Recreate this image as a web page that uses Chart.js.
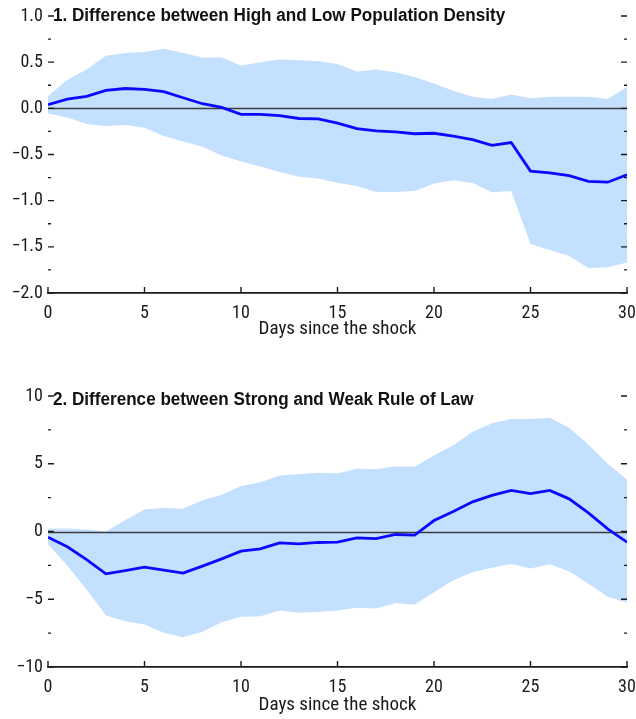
<!DOCTYPE html>
<html><head><meta charset="utf-8">
<script src="https://cdn.jsdelivr.net/npm/chart.js@4"></script>
<style>
html,body{margin:0;padding:0;background:#fff;width:636px;height:719px;overflow:hidden;}
#w1{position:absolute;left:0;top:0;width:636px;height:341px;}
#w2{position:absolute;left:0;top:360px;width:636px;height:357px;}
</style></head><body>
<div id="w1"><canvas id="c1"></canvas></div>
<div id="w2"><canvas id="c2"></canvas></div>
<script>
// ---- data ----
const days = [0,1,2,3,4,5,6,7,8,9,10,11,12,13,14,15,16,17,18,19,20,21,22,23,24,25,26,27,28,29,30];
const xTickValues = [0,5,10,15,20,25,30];
const xTickLabels = ['0','5','10','15','20','25','30'];

const title1 = '1. Difference between High and Low Population Density';
const densityMid  = [0.04,0.10,0.13,0.195,0.215,0.205,0.18,0.115,0.05,0.01,-0.065,-0.065,-0.08,-0.11,-0.115,-0.16,-0.22,-0.245,-0.255,-0.275,-0.27,-0.30,-0.34,-0.40,-0.37,-0.68,-0.70,-0.73,-0.79,-0.80,-0.72];
const densityHigh = [0.13,0.31,0.42,0.57,0.60,0.61,0.645,0.60,0.55,0.55,0.465,0.50,0.53,0.52,0.51,0.48,0.40,0.42,0.39,0.34,0.27,0.19,0.125,0.10,0.15,0.11,0.125,0.125,0.125,0.10,0.23];
const densityLow  = [-0.055,-0.10,-0.17,-0.19,-0.18,-0.21,-0.30,-0.36,-0.415,-0.51,-0.575,-0.63,-0.69,-0.74,-0.76,-0.805,-0.84,-0.905,-0.905,-0.895,-0.815,-0.78,-0.81,-0.91,-0.895,-1.47,-1.535,-1.60,-1.73,-1.72,-1.67];
const yTickValues1 = [-2,-1.5,-1,-0.5,0,0.5,1];
const yTickLabels1 = ['\u22122.0','\u22121.5','\u22121.0','\u22120.5','0.0','0.5','1.0'];

const title2 = '2. Difference between Strong and Weak Rule of Law';
const lawMid  = [-0.42,-1.13,-2.07,-3.12,-2.88,-2.63,-2.85,-3.07,-2.56,-2.02,-1.45,-1.28,-0.84,-0.91,-0.81,-0.79,-0.47,-0.52,-0.22,-0.27,0.81,1.48,2.19,2.66,3.03,2.80,3.03,2.41,1.38,0.2,-0.79];
const lawHigh = [0.2,0.22,0.15,0.0,0.83,1.62,1.75,1.67,2.31,2.71,3.35,3.64,4.13,4.23,4.33,4.28,4.63,4.6,4.80,4.77,5.61,6.37,7.36,7.99,8.31,8.31,8.39,7.65,6.42,5.0,3.84];
const lawLow  = [-0.96,-2.5,-4.28,-6.2,-6.62,-6.86,-7.48,-7.8,-7.4,-6.69,-6.3,-6.25,-5.83,-6.0,-5.95,-5.83,-5.63,-5.68,-5.29,-5.39,-4.48,-3.59,-3.0,-2.68,-2.39,-2.73,-2.41,-2.93,-3.86,-4.82,-5.26];
const yTickValues2 = [-10,-5,0,5,10];
const yTickLabels2 = ['\u221210','\u22125','0','5','10'];

const xTitle = 'Days since the shock';

// ---- styling ----
const FONT = "'Liberation Sans Narrow','Arial Narrow','Roboto Condensed','DejaVu Sans Condensed',sans-serif";
const TITLE_FONT = "'Liberation Sans',Arial,sans-serif";
Chart.defaults.font.family = FONT;
Chart.defaults.font.size = 18;
Chart.defaults.color = '#1a1a1a';
const BAND = 'rgb(196,224,255)';
const LINE = '#0a0aff';
const INK = '#1a1a1a';

const decor = {
  id: 'decor',
  beforeDatasetDraw(chart, args) {
    if (args.index !== 0) return;
    const {ctx, chartArea: a, scales: {y}} = chart;
    const py = Math.round(y.getPixelForValue(0)) + 0.5;
    ctx.save();
    ctx.strokeStyle = '#3c3c3c'; ctx.lineWidth = 1.3;
    ctx.beginPath(); ctx.moveTo(a.left, py); ctx.lineTo(a.right, py); ctx.stroke();
    ctx.restore();
  },
  afterDraw(chart, args, opts) {
    const {ctx, chartArea: a, scales: {x, y}} = chart;
    ctx.save();
    ctx.strokeStyle = INK; ctx.lineWidth = 1.4;
    const vals = opts.yTicks;
    const tick = (v, len) => {
      const py = y.getPixelForValue(v);
      ctx.beginPath();
      ctx.moveTo(a.left, py); ctx.lineTo(a.left + len, py);
      ctx.moveTo(a.right, py); ctx.lineTo(a.right - len, py);
      ctx.stroke();
    };
    vals.forEach(v => tick(v, 6));
    for (let i = 0; i < vals.length - 1; i++) tick((vals[i] + vals[i + 1]) / 2, 3);
    opts.xTicks.forEach(v => {
      const px = x.getPixelForValue(v);
      ctx.beginPath(); ctx.moveTo(px, a.bottom); ctx.lineTo(px, a.bottom - 6); ctx.stroke();
    });
    ctx.fillStyle = '#111';
    ctx.font = "bold 18px " + TITLE_FONT;
    ctx.textBaseline = 'alphabetic'; ctx.textAlign = 'left';
    ctx.translate(a.left + 5, a.top + opts.titleDy);
    ctx.scale(0.95, 1);
    ctx.fillText(opts.title, 0, 0);
    ctx.restore();
  }
};

function makeChart(id, mid, hi, lo, yVals, yLabs, title, padTop, xAxisH, titleDy) {
  const pts = arr => days.map((d, i) => ({x: d, y: arr[i]}));
  return new Chart(document.getElementById(id), {
    type: 'line',
    data: {
      datasets: [
        {data: pts(mid), borderColor: LINE, borderWidth: 2.8, pointRadius: 0, fill: false, tension: 0},
        {data: pts(hi), borderWidth: 0, pointRadius: 0, backgroundColor: BAND, fill: '+1', tension: 0},
        {data: pts(lo), borderWidth: 0, pointRadius: 0, backgroundColor: BAND, fill: false, tension: 0}
      ]
    },
    options: {
      responsive: true, maintainAspectRatio: false, animation: false, devicePixelRatio: 1,
      layout: {padding: {left: 0, right: 9, top: padTop, bottom: 0}},
      plugins: {legend: {display: false}, tooltip: {enabled: false},
        decor: {yTicks: yVals, xTicks: xTickValues, title: title, titleDy: titleDy}},
      scales: {
        x: {
          type: 'linear', min: 0, max: 30,
          afterBuildTicks: s => { s.ticks = xTickValues.map(v => ({value: v})); },
          afterFit: s => { s.height = xAxisH; s.paddingLeft = 0; s.paddingRight = 0; },
          grid: {display: false, drawTicks: false},
          border: {display: true, color: INK, width: 1.8},
          ticks: {padding: 10, maxRotation: 0, autoSkip: false, color: '#1a1a1a',
            callback: v => xTickLabels[xTickValues.indexOf(v)]},
          title: {display: true, text: xTitle, color: '#1a1a1a', padding: {top: 0, bottom: 0}, font: {size: 19}}
        },
        y: {
          min: yVals[0], max: yVals[yVals.length - 1],
          afterBuildTicks: s => { s.ticks = yVals.map(v => ({value: v})); },
          afterFit: s => { s.width = 48; s.paddingTop = 0; s.paddingBottom = 0; },
          grid: {display: false, drawTicks: false},
          border: {display: false},
          ticks: {padding: 5, autoSkip: false, color: '#1a1a1a',
            callback: v => yLabs[yVals.indexOf(v)]}
        }
      }
    },
    plugins: [decor]
  });
}

makeChart('c1', densityMid, densityHigh, densityLow, yTickValues1, yTickLabels1, title1, 16, 48, 5);
makeChart('c2', lawMid, lawHigh, lawLow, yTickValues2, yTickLabels2, title2, 36, 50, 8.5);
</script>
</body></html>
